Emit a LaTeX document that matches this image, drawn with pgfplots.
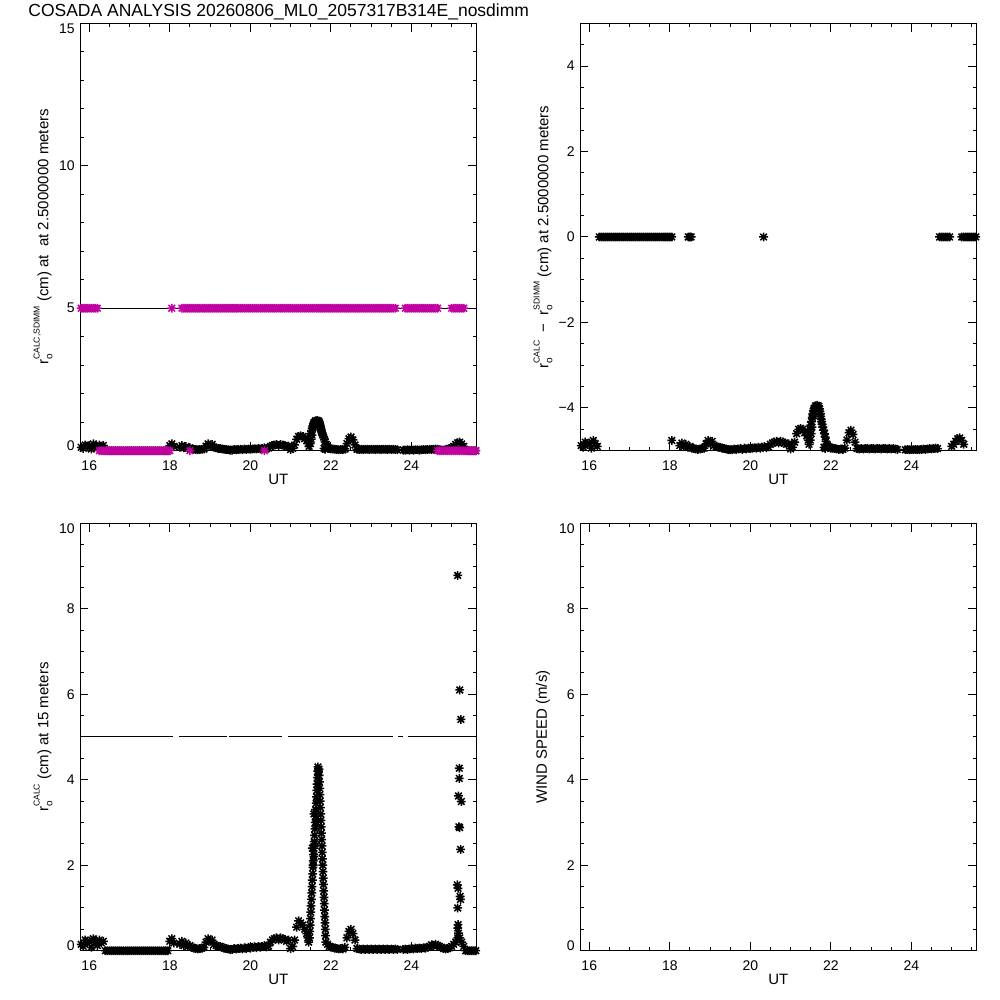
\documentclass[border=0pt]{standalone}
\usepackage{pgfplots}
\pgfplotsset{compat=1.18}
\usepackage{pgfplotstable}
\usepackage{fontspec}
\setmainfont{Liberation Sans}
\definecolor{idlmag}{RGB}{192,0,160}
\pgfdeclareplotmark{ast8}{%
 \pgfpathmoveto{\pgfqpoint{-\pgfplotmarksize}{0pt}}\pgfpathlineto{\pgfqpoint{\pgfplotmarksize}{0pt}}%
 \pgfpathmoveto{\pgfqpoint{0pt}{-\pgfplotmarksize}}\pgfpathlineto{\pgfqpoint{0pt}{\pgfplotmarksize}}%
 \pgfpathmoveto{\pgfqpoint{-.75\pgfplotmarksize}{-.75\pgfplotmarksize}}\pgfpathlineto{\pgfqpoint{.75\pgfplotmarksize}{.75\pgfplotmarksize}}%
 \pgfpathmoveto{\pgfqpoint{-.75\pgfplotmarksize}{.75\pgfplotmarksize}}\pgfpathlineto{\pgfqpoint{.75\pgfplotmarksize}{-.75\pgfplotmarksize}}%
 \pgfusepathqstroke}
\newcommand{\ro}[1]{r\rlap{\raisebox{-0.5ex}{\fontsize{5}{5}\selectfont o}}\raisebox{1.1ex}{\fontsize{4.3}{4.3}\selectfont #1}}
\newcommand{\lowlab}[1]{\raisebox{2.5pt}[5pt][0pt]{#1}}
\newcommand{\toplab}[1]{\raisebox{-2.5pt}[5pt][0pt]{#1}}

% grid data: t, a = r0 calc at 2.5 m, d = calc - sdimm (where sdimm = 5), b = r0 calc at 15 m
\pgfplotstableread{
t a d b
15.80 0.12 -4.88 0.15
15.85 0.08 -4.92 0.10
15.90 0.20 -4.80 0.25
15.95 0.15 -4.85 0.18
16.00 0.18 -4.82 0.22
16.05 0.06 -4.94 0.08
16.10 0.24 -4.76 0.28
16.15 0.16 -4.84 0.20
16.20 0.10 -4.90 0.12
16.25 0.20 nan 0.25
16.30 0.15 nan 0.18
16.35 0.18 nan 0.22
16.40 0 nan 0
16.45 0 nan 0
16.50 0 nan 0
16.55 0 nan 0
16.60 0 nan 0
16.65 0 nan 0
16.70 0 nan 0
16.75 0 nan 0
16.80 0 nan 0
16.85 0 nan 0
16.90 0 nan 0
16.95 0 nan 0
17.00 0 nan 0
17.05 0 nan 0
17.10 0 nan 0
17.15 0 nan 0
17.20 0 nan 0
17.25 0 nan 0
17.30 0 nan 0
17.35 0 nan 0
17.40 0 nan 0
17.45 0 nan 0
17.50 0 nan 0
17.55 0 nan 0
17.60 0 nan 0
17.65 0 nan 0
17.70 0 nan 0
17.75 0 nan 0
17.80 0 nan 0
17.85 0 nan 0
17.90 0 nan 0
17.95 0 nan 0
18.00 0.18 nan 0.22
18.05 0.24 -4.76 0.28
18.10 0.15 nan 0.18
18.25 0.12 -4.88 0.15
18.30 0.18 -4.82 0.22
18.35 0.10 -4.90 0.12
18.40 0.15 -4.85 0.18
18.45 0.08 -4.92 0.10
18.50 0.10 -4.90 0.12
18.55 0.06 -4.94 0.08
18.60 0.05 -4.95 0.06
18.65 0.04 -4.96 0.05
18.70 0.03 -4.97 0.04
18.75 0.04 -4.96 0.05
18.80 0.05 -4.95 0.06
18.85 0.06 -4.94 0.08
18.90 0.16 -4.84 0.20
18.95 0.24 -4.76 0.28
19.00 0.18 -4.82 0.22
19.05 0.22 -4.78 0.25
19.10 0.12 -4.88 0.15
19.15 0.10 -4.90 0.12
19.20 0.08 -4.92 0.10
19.25 0.08 -4.92 0.10
19.30 0.06 -4.94 0.08
19.35 0.05 -4.95 0.06
19.40 0.04 -4.96 0.05
19.45 0.03 -4.97 0.04
19.50 0.02 -4.98 0.03
19.55 0.02 -4.98 0.03
19.60 0.04 -4.96 0.05
19.65 0.03 -4.97 0.04
19.70 0.04 -4.96 0.05
19.75 0.05 -4.95 0.06
19.80 0.03 -4.97 0.04
19.85 0.06 -4.94 0.07
19.90 0.04 -4.96 0.05
19.95 0.06 -4.94 0.08
20.00 0.05 -4.95 0.06
20.05 0.06 -4.94 0.08
20.10 0.07 -4.93 0.09
20.15 0.06 -4.94 0.07
20.20 0.08 -4.92 0.10
20.25 0.06 -4.94 0.08
20.30 0.08 -4.92 0.10
20.35 0.10 -4.90 0.12
20.40 0.07 -4.93 0.09
20.45 0.09 -4.91 0.11
20.50 0.15 -4.85 0.20
20.55 0.18 -4.82 0.25
20.60 0.20 -4.80 0.28
20.65 0.22 -4.78 0.30
20.70 0.18 -4.82 0.25
20.75 0.22 -4.78 0.30
20.80 0.20 -4.80 0.28
20.85 0.18 -4.82 0.26
20.90 0.15 -4.85 0.22
20.95 0.16 -4.84 0.25
21.00 0.04 -4.96 0.05
21.05 0.08 -4.92 0.10
21.10 0.20 -4.80 0.25
21.15 0.40 -4.60 0.55
21.20 0.50 -4.50 0.70
21.25 0.52 -4.48 0.65
21.30 0.50 -4.50 0.60
21.35 0.42 -4.58 0.50
22.05 0.06 -4.94 0.08
22.10 0.05 -4.95 0.06
22.15 0.04 -4.96 0.05
22.20 0.03 -4.97 0.04
22.25 0.04 -4.96 0.05
22.30 0.03 -4.97 0.04
22.35 0.06 -4.94 0.08
22.40 0.25 -4.75 0.30
22.45 0.42 -4.58 0.45
22.50 0.48 -4.52 0.50
22.55 0.38 -4.62 0.40
22.60 0.20 -4.80 0.25
22.65 0.05 -4.95 0.05
22.70 0.04 -4.96 0.04
22.75 0.05 -4.95 0.03
22.80 0.04 -4.96 0.04
22.85 0.05 -4.95 0.03
22.90 0.05 -4.95 0.04
22.95 0.04 -4.96 0.03
23.00 0.05 -4.95 0.04
23.05 0.05 -4.95 0.03
23.10 0.04 -4.96 0.04
23.15 0.05 -4.95 0.03
23.20 0.05 -4.95 0.04
23.25 0.04 -4.96 0.03
23.30 0.05 -4.95 0.04
23.35 0.05 -4.95 0.03
23.40 0.04 -4.96 0.04
23.45 0.05 -4.95 0.03
23.50 0.04 -4.96 0.04
23.55 0.05 -4.95 0.03
23.60 0.04 -4.96 0.04
23.65 0.03 -4.97 0.03
23.80 0.02 nan 0.03
23.85 0.02 -4.98 0.04
23.90 0.03 -4.97 0.03
23.95 0.02 -4.98 0.04
24.00 0.03 -4.97 0.05
24.05 0.02 -4.98 0.04
24.10 0.03 -4.97 0.06
24.15 0.03 -4.97 0.05
24.20 0.02 -4.98 0.06
24.25 0.03 -4.97 0.05
24.30 0.04 -4.96 0.07
24.35 0.03 -4.97 0.06
24.40 0.04 -4.96 0.08
24.45 0.05 -4.95 0.10
24.50 0.04 -4.96 0.14
24.55 0.05 -4.95 0.12
24.60 0.06 -4.94 0.15
24.65 0.05 -4.95 0.12
24.70 0.03 nan 0.10
24.75 0.02 nan 0.08
24.80 0.02 nan 0.05
24.85 0.03 nan 0.04
24.90 0.05 nan 0.05
24.95 0.08 nan 0.07
25.00 0.10 -4.90 0.10
25.05 0.15 -4.85 0.15
25.10 0.22 -4.78 0.20
25.15 0.28 -4.72 0.25
25.20 0.30 -4.70 0.30
25.25 0.24 -4.76 0.20
25.30 0.15 -4.85 0.10
25.35 0 nan 0
25.40 0 nan 0
25.45 0 nan 0
25.50 0 nan 0
25.55 0 nan 0
25.60 0 nan 0
}\griddata

% peak near 21.6 UT, 2.5 m
\pgfplotstableread{
t a d
21.40 0.35 -4.65
21.42 0.45 -4.55
21.44 0.25 -4.75
21.46 0.15 -4.85
21.47 0.35 -4.65
21.48 0.50 -4.50
21.49 0.25 -4.75
21.50 0.60 -4.40
21.51 0.40 -4.60
21.52 0.68 -4.32
21.53 0.55 -4.45
21.54 0.78 -4.22
21.55 0.86 -4.14
21.56 0.82 -4.18
21.57 0.93 -4.07
21.58 0.98 -4.02
21.60 1.00 -4.00
21.62 1.05 -3.95
21.64 1.02 -3.98
21.66 1.06 -3.94
21.68 1.00 -4.00
21.70 1.04 -3.96
21.72 0.98 -4.02
21.73 0.92 -4.08
21.74 0.86 -4.14
21.75 0.80 -4.20
21.76 0.74 -4.26
21.77 0.68 -4.32
21.78 0.62 -4.38
21.80 0.55 -4.45
21.82 0.48 -4.52
21.84 0.40 -4.60
21.86 0.32 -4.68
21.83 0.08 -4.92
21.86 0.05 -4.95
21.88 0.22 -4.78
21.90 0.15 -4.85
21.93 0.10 -4.90
21.96 0.08 -4.92
22.00 0.06 -4.94
}\peakA

% peak near 21.7 UT, 15 m
\pgfplotstableread{
t b
21.40 0.40
21.43 0.30
21.45 0.20
21.470 0.30
21.478 0.45
21.486 0.60
21.494 0.75
21.502 0.90
21.509 1.05
21.517 1.20
21.525 1.35
21.533 1.50
21.541 1.65
21.549 1.80
21.557 1.95
21.565 2.10
21.572 2.25
21.580 2.40
21.588 2.55
21.596 2.70
21.604 2.85
21.612 3.00
21.620 3.15
21.628 3.30
21.635 3.45
21.643 3.60
21.651 3.75
21.659 3.90
21.667 4.05
21.675 4.20
21.680 4.30
21.690 4.20
21.690 4.10
21.680 3.90
21.620 3.30
21.660 3.50
21.640 3.00
21.580 3.20
21.540 2.40
21.580 2.20
21.600 2.50
21.560 2.00
21.702 4.25
21.709 4.10
21.715 3.95
21.721 3.80
21.728 3.65
21.734 3.50
21.740 3.35
21.747 3.20
21.753 3.05
21.760 2.90
21.766 2.75
21.772 2.60
21.779 2.45
21.785 2.30
21.791 2.15
21.798 2.00
21.804 1.85
21.811 1.70
21.817 1.55
21.823 1.40
21.830 1.25
21.836 1.10
21.842 0.95
21.849 0.80
21.855 0.65
21.862 0.50
21.868 0.35
21.875 0.20
21.920 0.15
21.960 0.10
22.000 0.08
}\peakB

% outliers near 25.2 UT, 15 m
\pgfplotstableread{
t b
25.15 8.78
25.20 6.10
25.23 5.41
25.19 4.27
25.19 4.03
25.17 3.62
25.24 3.49
25.18 2.90
25.20 2.88
25.22 2.37
25.14 1.54
25.16 1.46
25.21 1.27
25.22 1.20
25.15 1.00
25.16 0.61
25.15 0.53
25.17 0.41
25.15 0.30
}\outB

\pgfplotsset{
  idl/.style={
    scale only axis, width=198.3pt, height=213.7pt,
    xmin=15.77, xmax=25.62,
    xtick={16,18,20,22,24}, xticklabels={16,18,20,22,24},
    minor xtick={16,16.5,...,25.5},
    major tick length=4.2pt, minor tick length=2pt,
    tick align=inside,
    every tick/.style={black, line width=0.5pt},
    axis line style={line width=0.5pt},
    tick label style={font=\fontsize{7}{8}\selectfont, inner sep=0pt},
    xticklabel style={anchor=north, yshift=-5pt},
    yticklabel style={anchor=east, xshift=-2.5pt},
    label style={font=\fontsize{7.5}{8}\selectfont},
    xlabel={UT},
    xlabel style={at={(axis description cs:0.5,0)}, anchor=center, yshift=-14.5pt, inner sep=0pt},
    ylabel style={at={(axis description cs:-0.0933,0.5)}, anchor=center, inner sep=0pt},
    /pgf/number format/assume math mode=true,
    clip=true,
  },
  pts/.style={only marks, mark=ast8, mark size=2.2pt, mark options={line width=0.75pt, solid}},
}

\begin{document}
\begin{tikzpicture}
\useasboundingbox (0,0) rectangle (500pt,500pt);
\node[anchor=base west, inner sep=0pt, font=\fontsize{8.75}{10}\selectfont] at (14pt,491.5pt) {COSADA ANALYSIS 20260806\_ML0\_2057317B314E\_nosdimm};

% ---------- top left ----------
\begin{axis}[idl, at={(40pt,274.65pt)}, anchor=south west,
  ymin=0, ymax=15, ytick={0,5,10,15}, yticklabels={\lowlab{0},5,10,\toplab{15}},
  minor ytick={0,1,...,15},
  ylabel={\ro{CALC,SDIMM} (cm) at\ \ at 2.5000000 meters}]
\addplot[pts, black] table[x=t, y=a] {\griddata};
\addplot[pts, black] table[x=t, y=a] {\peakA};
\addplot[pts, idlmag] coordinates {
(15.80,5)(15.85,5)(15.90,5)(15.95,5)(16.00,5)(16.05,5)(16.10,5)(16.15,5)(16.20,5)(18.05,5)
(18.30,5)(18.35,5)(18.40,5)(18.45,5)(18.50,5)(18.55,5)(18.60,5)(18.65,5)(18.70,5)(18.75,5)(18.80,5)(18.85,5)(18.90,5)(18.95,5)
(19.00,5)(19.05,5)(19.10,5)(19.15,5)(19.20,5)(19.25,5)(19.30,5)(19.35,5)(19.40,5)(19.45,5)(19.50,5)(19.55,5)(19.60,5)(19.65,5)(19.70,5)(19.75,5)(19.80,5)(19.85,5)(19.90,5)(19.95,5)
(20.00,5)(20.05,5)(20.10,5)(20.15,5)(20.20,5)(20.25,5)(20.30,5)(20.35,5)(20.40,5)(20.45,5)(20.50,5)(20.55,5)(20.60,5)(20.65,5)(20.70,5)(20.75,5)(20.80,5)(20.85,5)(20.90,5)(20.95,5)
(21.00,5)(21.05,5)(21.10,5)(21.15,5)(21.20,5)(21.25,5)(21.30,5)(21.35,5)(21.40,5)(21.45,5)(21.50,5)(21.55,5)(21.60,5)(21.65,5)(21.70,5)(21.75,5)(21.80,5)(21.85,5)(21.90,5)(21.95,5)
(22.00,5)(22.05,5)(22.10,5)(22.15,5)(22.20,5)(22.25,5)(22.30,5)(22.35,5)(22.40,5)(22.45,5)(22.50,5)(22.55,5)(22.60,5)(22.65,5)(22.70,5)(22.75,5)(22.80,5)(22.85,5)(22.90,5)(22.95,5)
(23.00,5)(23.05,5)(23.10,5)(23.15,5)(23.20,5)(23.25,5)(23.30,5)(23.35,5)(23.40,5)(23.45,5)(23.50,5)(23.55,5)(23.60,5)
(23.85,5)(23.90,5)(23.95,5)(24.00,5)(24.05,5)(24.10,5)(24.15,5)(24.20,5)(24.25,5)(24.30,5)(24.35,5)(24.40,5)(24.45,5)(24.50,5)(24.55,5)(24.60,5)(24.65,5)
(25.00,5)(25.05,5)(25.10,5)(25.15,5)(25.20,5)(25.25,5)(25.30,5)
(16.25,0)(16.30,0)(16.35,0)(16.40,0)(16.45,0)(16.50,0)(16.55,0)(16.60,0)(16.65,0)(16.70,0)(16.75,0)(16.80,0)(16.85,0)(16.90,0)(16.95,0)
(17.00,0)(17.05,0)(17.10,0)(17.15,0)(17.20,0)(17.25,0)(17.30,0)(17.35,0)(17.40,0)(17.45,0)(17.50,0)(17.55,0)(17.60,0)(17.65,0)(17.70,0)(17.75,0)(17.80,0)(17.85,0)(17.90,0)(17.95,0)(18.00,0)
(18.50,0)(20.35,0)
(24.65,0)(24.70,0)(24.75,0)(24.80,0)(24.85,0)(24.90,0)(24.95,0)(25.00,0)(25.05,0)(25.10,0)(25.15,0)(25.20,0)(25.25,0)(25.30,0)(25.35,0)(25.40,0)(25.45,0)(25.50,0)(25.55,0)(25.60,0)
};
\addplot[black, line width=0.5pt] coordinates {(15.77,5)(25.62,5)};
\end{axis}

% ---------- top right ----------
\begin{axis}[idl, at={(290pt,274.65pt)}, anchor=south west,
  ymin=-5, ymax=5, ytick={-4,-2,0,2,4}, yticklabels={−4,−2,0,2,4},
  minor ytick={-5,-4.5,...,5},
  ylabel={\ro{CALC}\ \ −\ \ \ro{SDIMM} (cm) at 2.5000000 meters}]
\addplot[pts, black] table[x=t, y=d] {\griddata};
\addplot[pts, black] table[x=t, y=d] {\peakA};
\addplot[pts, black] coordinates {
(16.25,0)(16.30,0)(16.35,0)(16.40,0)(16.45,0)(16.50,0)(16.55,0)(16.60,0)(16.65,0)(16.70,0)(16.75,0)(16.80,0)(16.85,0)(16.90,0)(16.95,0)
(17.00,0)(17.05,0)(17.10,0)(17.15,0)(17.20,0)(17.25,0)(17.30,0)(17.35,0)(17.40,0)(17.45,0)(17.50,0)(17.55,0)(17.60,0)(17.65,0)(17.70,0)(17.75,0)(17.80,0)(17.85,0)(17.90,0)(17.95,0)(18.00,0)(18.05,0)
(18.46,0)(18.50,0)(18.53,0)(20.33,0)
(24.70,0)(24.75,0)(24.80,0)(24.85,0)(24.90,0)(24.95,0)
(25.25,0)(25.30,0)(25.35,0)(25.40,0)(25.45,0)(25.50,0)(25.55,0)(25.60,0)
};
\end{axis}

% ---------- bottom left ----------
\begin{axis}[idl, at={(40pt,24.65pt)}, anchor=south west,
  ymin=0, ymax=10, ytick={0,2,4,6,8,10}, yticklabels={\lowlab{0},2,4,6,8,\toplab{10}},
  minor ytick={0,0.5,...,10},
  ylabel={\ro{CALC} (cm) at 15 meters}]
\addplot[pts, black] table[x=t, y=b] {\griddata};
\addplot[pts, black] table[x=t, y=b] {\peakB};
\addplot[pts, black] table[x=t, y=b] {\outB};
\addplot[black, line width=0.5pt] coordinates {(15.77,5)(18.07,5)};
\addplot[black, line width=0.5pt] coordinates {(18.24,5)(19.41,5)};
\addplot[black, line width=0.5pt] coordinates {(19.46,5)(20.78,5)};
\addplot[black, line width=0.5pt] coordinates {(20.94,5)(23.55,5)};
\addplot[black, line width=0.5pt] coordinates {(23.67,5)(23.79,5)};
\addplot[black, line width=0.5pt] coordinates {(23.92,5)(25.62,5)};
\end{axis}

% ---------- bottom right ----------
\begin{axis}[idl, at={(290pt,24.65pt)}, anchor=south west,
  ymin=0, ymax=10, ytick={0,2,4,6,8,10}, yticklabels={\lowlab{0},2,4,6,8,\toplab{10}},
  minor ytick={0,0.5,...,10},
  ylabel={WIND SPEED (m/s)}]
\addplot[draw=none] coordinates {(15.77,0)};
\end{axis}
\end{tikzpicture}
\end{document}
